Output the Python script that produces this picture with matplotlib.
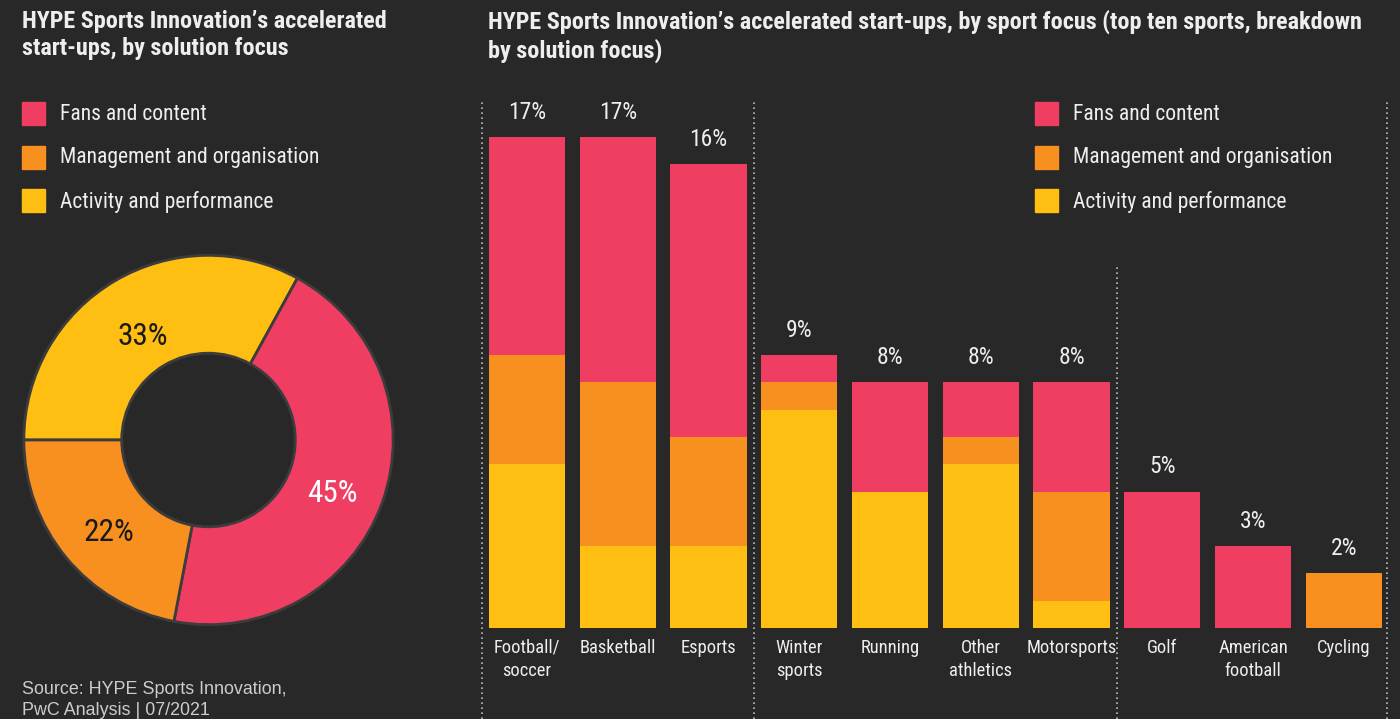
import matplotlib.pyplot as plt
import numpy as np

BG = '#282828'
PINK = '#f03e63'
ORANGE = '#f7901e'
YELLOW = '#ffbe12'
TXT = '#eeeeee'

plt.rcParams['font.family'] = ['Roboto Condensed', 'Barlow Condensed', 'DejaVu Sans']

# donut: share of start-ups by solution focus
solution_labels = ['Activity and performance', 'Fans and content', 'Management and organisation']
solution_share = [33, 45, 22]

# bars: number of start-ups per sport, split by solution focus
sports = ['Football/\nsoccer', 'Basketball', 'Esports', 'Winter\nsports', 'Running',
          'Other\nathletics', 'Motorsports', 'Golf', 'American\nfootball', 'Cycling']
activity = [6, 3, 3, 8, 5, 6, 1, 0, 0, 0]
management = [4, 6, 4, 1, 0, 1, 4, 0, 0, 2]
fans = [8, 9, 10, 1, 4, 2, 4, 5, 3, 0]
sport_pct = ['17%', '17%', '16%', '9%', '8%', '8%', '8%', '5%', '3%', '2%']

W, H = 1400, 719
fig = plt.figure(figsize=(14, 7.19), dpi=100, facecolor=BG)


def px(x0, y0, x1, y1):
    # pixel box (top-left origin) -> figure fraction
    return [x0 / W, 1 - y1 / H, (x1 - x0) / W, (y1 - y0) / H]


# titles
fig.text(22 / W, 1 - 10 / H, "HYPE Sports Innovation’s accelerated\nstart-ups, by solution focus",
         color=TXT, fontsize=17.4, fontweight='bold', va='top', ha='left', linespacing=1.22)
fig.text(488 / W, 1 - 10 / H, "HYPE Sports Innovation’s accelerated start-ups, by sport focus (top ten sports, breakdown\nby solution focus)",
         color=TXT, fontsize=17.4, fontweight='bold', va='top', ha='left', linespacing=1.22)

# legends (left and right)
leg_names = ['Fans and content', 'Management and organisation', 'Activity and performance']
leg_cols = [PINK, ORANGE, YELLOW]
for lx in (22, 1035):
    for i, (name, col) in enumerate(zip(leg_names, leg_cols)):
        y0 = 102 + i * 43.5
        fig.patches.append(plt.Rectangle((lx / W, 1 - (y0 + 23) / H), 23 / W, 23 / H,
                                         transform=fig.transFigure, color=col))
        fig.text((lx + 38) / W, 1 - (y0 + 12.5) / H, name, color=TXT, fontsize=15.6,
                 va='center', ha='left')

# donut
ax1 = fig.add_axes(px(22, 253, 395, 627))
ax1.set_facecolor(BG)
wedges, texts, autotexts = ax1.pie(
    solution_share, colors=[YELLOW, PINK, ORANGE], startangle=180, counterclock=False,
    autopct='%d%%', pctdistance=0.71,
    wedgeprops=dict(width=0.53, edgecolor='#3c3c3c', linewidth=2),
    textprops=dict(fontsize=22.5))
for t, c in zip(autotexts, ['#1a1a1a', '#ffffff', '#1a1a1a']):
    t.set_color(c)
    tx, ty = t.get_position()
    t.set_position((tx + 0.005, ty - 0.048))
ax1.set_xlim(-1.01, 1.01)
ax1.set_ylim(-1.01, 1.01)
ax1.set_aspect('equal')
ax1.axis('off')

fig.text(22 / W, 1 - 700 / H, "Source: HYPE Sports Innovation,\nPwC Analysis | 07/2021",
         color='#cccccc', fontsize=12.9, family=['Liberation Sans', 'DejaVu Sans'],
         va='center', ha='left', linespacing=1.25)

# stacked bars
ax2 = fig.add_axes(px(480, 100, 1391, 719))
ax2.set_facecolor(BG)
x = np.arange(len(sports))
act = np.array(activity)
man = np.array(management)
fan = np.array(fans)
ax2.bar(x, act, width=0.84, color=YELLOW)
ax2.bar(x, man, width=0.84, bottom=act, color=ORANGE)
ax2.bar(x, fan, width=0.84, bottom=act + man, color=PINK)
tot = act + man + fan
for xi, t, lab in zip(x, tot, sport_pct):
    ax2.text(xi, t + 0.9, lab, color=TXT, fontsize=17, ha='center', va='center')
for xi, s in zip(x, sports):
    ax2.text(xi, -0.4, s, color=TXT, fontsize=13.3, ha='center', va='top', linespacing=1.35)

ylo, yhi = -3.33, 19.34
ax2.vlines([-0.5, 2.5, 9.48], ylo, yhi, colors='#bbbbbb', linestyles=(0, (1, 2)), linewidth=1.2)
ax2.vlines([6.5], ylo, 13.3, colors='#bbbbbb', linestyles=(0, (1, 2)), linewidth=1.2)
ax2.set_xlim(-0.518, 9.52)
ax2.set_ylim(ylo, yhi)
ax2.axis('off')

fig.savefig('out.png', dpi=100, facecolor=BG)
